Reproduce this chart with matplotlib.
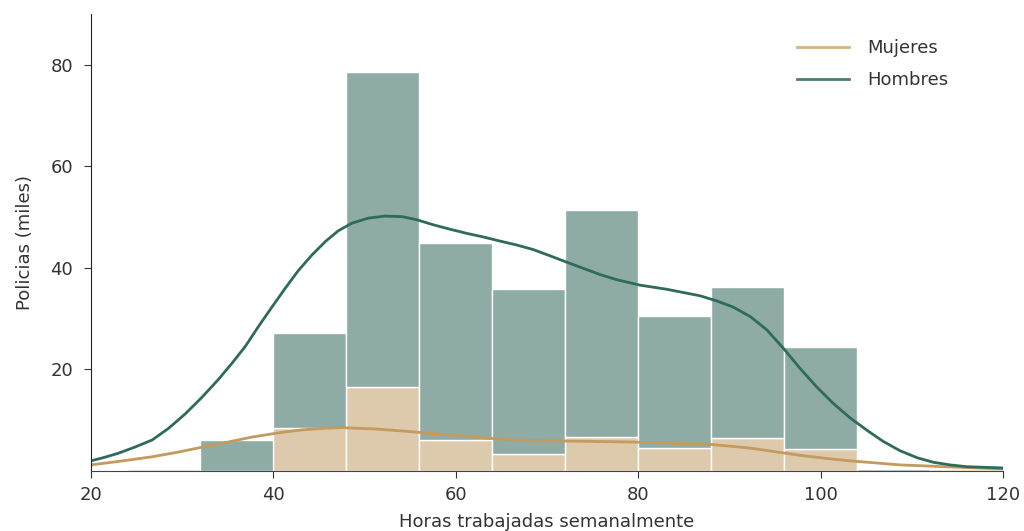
import numpy as np
import matplotlib.pyplot as plt

plt.rcParams['font.family'] = ['DejaVu Sans']

# bins de 8 horas
bin_edges = [24, 32, 40, 48, 56, 64, 72, 80, 88, 96, 104, 112]
mujeres = [0.4, 0, 8.4, 16.5, 6.1, 3.3, 6.7, 4.5, 6.5, 4.4, 0, 0.3]
hombres = [0, 6.2, 18.8, 62.0, 38.9, 32.5, 44.8, 26.0, 29.7, 20.0, 0.4, 0]

# curvas kde
kde_h_x = [20, 21.5, 23, 24.8, 26.7, 28.5, 30.3, 32.1, 33.9, 35.4, 36.9, 38.3, 39.8,
           41.3, 42.7, 44.2, 45.7, 47.1, 48.6, 50.4, 52.2, 54.1, 55.7, 57.5, 59.4,
           61.2, 63.0, 64.8, 66.7, 68.5, 70.3, 72.2, 74.0, 75.8, 77.6, 80.2, 83.1,
           86.8, 88.6, 90.4, 92.3, 94.1, 95.9, 97.7, 99.6, 101.4, 103.2, 105.1,
           106.8, 108.7, 110.6, 112.4, 114.2, 116.0, 120]
kde_h_y = [2.0, 2.7, 3.5, 4.7, 6.1, 8.4, 11.2, 14.4, 17.9, 21.1, 24.5, 28.3, 32.2,
           36.0, 39.4, 42.5, 45.2, 47.3, 48.8, 49.8, 50.2, 50.1, 49.5, 48.5, 47.6,
           46.8, 46.1, 45.3, 44.5, 43.6, 42.4, 41.1, 39.9, 38.7, 37.7, 36.6, 35.8,
           34.5, 33.5, 32.3, 30.4, 27.8, 24.2, 20.3, 16.5, 13.3, 10.5, 8.0,
           5.9, 4.0, 2.6, 1.7, 1.2, 0.85, 0.6]
kde_m_x = [20, 23.5, 26.7, 29.5, 32.2, 35.0, 37.7, 40.5, 43.1, 45.5, 47.9, 51.0,
           54.0, 56.7, 59.4, 62.0, 64.8, 68.5, 72.2, 76.0, 79.4, 83.5, 87.5,
           90.0, 92.3, 95.0, 97.7, 100.5, 103.2, 106.0, 108.7, 111.5, 114.2, 117.0, 120]
kde_m_y = [1.2, 2.0, 2.8, 3.7, 4.7, 5.7, 6.7, 7.5, 8.1, 8.4, 8.5, 8.3,
           7.9, 7.5, 7.1, 6.7, 6.3, 6.0, 5.9, 5.8, 5.7, 5.5, 5.3,
           4.9, 4.5, 3.8, 3.1, 2.5, 2.0, 1.6, 1.2, 1.0, 0.8, 0.6, 0.4]

c_m_bar, c_m_line = '#DDC9AC', '#C49A5E'
c_h_bar, c_h_line = '#8FABA5', '#2E6B5A'

fig = plt.figure(figsize=(10.24, 5.31), dpi=100)
ax = fig.add_axes([0.0889, 0.113, 0.8906, 0.8606])

ax.bar(bin_edges, mujeres, width=8, align='edge', color=c_m_bar,
       edgecolor='white', linewidth=1)
ax.bar(bin_edges, hombres, width=8, align='edge', bottom=mujeres, color=c_h_bar,
       edgecolor='white', linewidth=1)

ax.plot(kde_m_x, kde_m_y, color=c_m_line, lw=2, label='Mujeres')
ax.plot(kde_h_x, kde_h_y, color=c_h_line, lw=2, label='Hombres')

ax.set_xlim(20, 120)
ax.set_ylim(0, 90)
ax.set_xticks([20, 40, 60, 80, 100, 120])
ax.set_yticks([20, 40, 60, 80])
ax.spines['top'].set_visible(False)
ax.spines['right'].set_visible(False)
ax.spines['left'].set_color('#222222')
ax.spines['bottom'].set_color('#444444')
ax.tick_params(labelsize=13, colors='#333333', length=5)
ax.tick_params(axis='y', pad=8)
ax.tick_params(axis='x', pad=6)
ax.set_xlabel('Horas trabajadas semanalmente', fontsize=13, color='#333333', labelpad=6)
ax.set_ylabel('Policias (miles)', fontsize=13, color='#333333', labelpad=12)

leg = ax.legend(loc='upper right', frameon=False, fontsize=13,
                bbox_to_anchor=(0.958, 0.98), handlelength=2.9,
                handletextpad=1.0, labelspacing=0.75)
leg.get_lines()[0].set_color('#D4B483')
leg.get_lines()[1].set_color('#4C7E70')
for t in leg.get_texts():
    t.set_color('#333333')

fig.savefig('out.png', dpi=100)
